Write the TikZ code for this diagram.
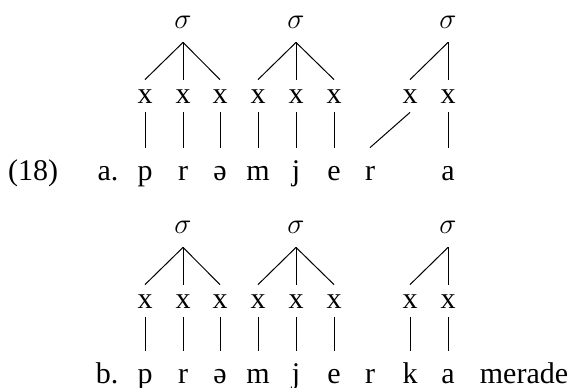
\documentclass[tikz,border=0pt]{standalone}
\usepackage{fontspec}
\setmainfont{Liberation Serif}
\usepackage{tikz}
\tikzstyle{txt} = [font=\fontsize{15}{18}\selectfont,anchor=base]
\tikzstyle{syl} = [txt,inner sep=7pt,text height=7pt,text depth=0pt]
\tikzstyle{skel} = [txt,inner xsep=0pt,inner ysep=4.5pt,text height=7pt,text depth=0pt]
\tikzstyle{seg} = [txt,inner xsep=0pt,inner ysep=9pt,text height=7pt,text depth=2pt]
\tikzstyle{assoc} = [draw,line width=0.5pt]

\begin{document}
\begin{tikzpicture}[x=0.5pt,y=-0.5pt]
    \useasboundingbox (0,0) rectangle (576,387);

    % (18a)
    \node[txt] (num) at (33,180) {(18)};
    \node[txt] (la) at (108,180) {a.};

    \node[syl] (sa1) at (183,28) {$\sigma$};
    \node[syl] (sa2) at (296,28) {$\sigma$};
    \node[syl] (sa3) at (448,28) {$\sigma$};

    \node[skel] (xa1) at (145,103) {x};
    \node[skel] (xa2) at (183,103) {x};
    \node[skel] (xa3) at (220,103) {x};
    \node[skel] (xa4) at (258,103) {x};
    \node[skel] (xa5) at (296,103) {x};
    \node[skel] (xa6) at (334,103) {x};
    \node[skel] (xa7) at (410,103) {x};
    \node[skel] (xa8) at (448,103) {x};

    \node[seg] (sega1) at (145,180) {p};
    \node[seg] (sega2) at (183,180) {r};
    \node[seg] (sega3) at (220,180) {ə};
    \node[seg] (sega4) at (258,180) {m};
    \node[seg] (sega5) at (296,180) {j};
    \node[seg] (sega6) at (334,180) {e};
    \node[seg] (sega7) at (370,180) {r};
    \node[seg] (sega8) at (448,180) {a};

    \draw[assoc] (sa1.south) -- (xa1.north);
    \draw[assoc] (sa1.south) -- (xa2.north);
    \draw[assoc] (sa1.south) -- (xa3.north);
    \draw[assoc] (sa2.south) -- (xa4.north);
    \draw[assoc] (sa2.south) -- (xa5.north);
    \draw[assoc] (sa2.south) -- (xa6.north);
    \draw[assoc] (sa3.south) -- (xa7.north);
    \draw[assoc] (sa3.south) -- (xa8.north);

    \draw[assoc] (xa1.south) -- (sega1.north);
    \draw[assoc] (xa2.south) -- (sega2.north);
    \draw[assoc] (xa3.south) -- (sega3.north);
    \draw[assoc] (xa4.south) -- (sega4.north);
    \draw[assoc] (xa5.south) -- (sega5.north);
    \draw[assoc] (xa6.south) -- (sega6.north);
    \draw[assoc] (xa7.south) -- (sega7.north);
    \draw[assoc] (xa8.south) -- (sega8.north);

    % (18b)
    \node[txt] (lb) at (107,383) {b.};

    \node[syl] (sb1) at (183,233) {$\sigma$};
    \node[syl] (sb2) at (296,233) {$\sigma$};
    \node[syl] (sb3) at (448,233) {$\sigma$};

    \node[skel] (xb1) at (145,308) {x};
    \node[skel] (xb2) at (183,308) {x};
    \node[skel] (xb3) at (220,308) {x};
    \node[skel] (xb4) at (258,308) {x};
    \node[skel] (xb5) at (296,308) {x};
    \node[skel] (xb6) at (334,308) {x};
    \node[skel] (xb7) at (410,308) {x};
    \node[skel] (xb8) at (448,308) {x};

    \node[seg] (segb1) at (145,383) {p};
    \node[seg] (segb2) at (183,383) {r};
    \node[seg] (segb3) at (220,383) {ə};
    \node[seg] (segb4) at (258,383) {m};
    \node[seg] (segb5) at (296,383) {j};
    \node[seg] (segb6) at (334,383) {e};
    \node[seg] (segb7) at (370,383) {r};
    \node[seg] (segb8) at (410,383) {k};
    \node[seg] (segb9) at (448,383) {a};
    \node[txt] (rest) at (524,383) {merade};

    \draw[assoc] (sb1.south) -- (xb1.north);
    \draw[assoc] (sb1.south) -- (xb2.north);
    \draw[assoc] (sb1.south) -- (xb3.north);
    \draw[assoc] (sb2.south) -- (xb4.north);
    \draw[assoc] (sb2.south) -- (xb5.north);
    \draw[assoc] (sb2.south) -- (xb6.north);
    \draw[assoc] (sb3.south) -- (xb7.north);
    \draw[assoc] (sb3.south) -- (xb8.north);

    \draw[assoc] (xb1.south) -- (segb1.north);
    \draw[assoc] (xb2.south) -- (segb2.north);
    \draw[assoc] (xb3.south) -- (segb3.north);
    \draw[assoc] (xb4.south) -- (segb4.north);
    \draw[assoc] (xb5.south) -- (segb5.north);
    \draw[assoc] (xb6.south) -- (segb6.north);
    \draw[assoc] (xb7.south) -- (segb8.north);
    \draw[assoc] (xb8.south) -- (segb9.north);

\end{tikzpicture}
\end{document}
